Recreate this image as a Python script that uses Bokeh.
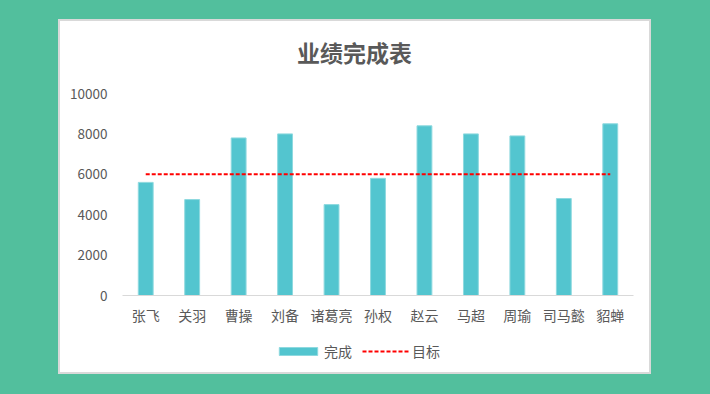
from bokeh.plotting import figure
from bokeh.layouts import column
from bokeh.models import (Range1d, FactorRange, FixedTicker, Legend, LegendItem,
                          ColumnDataSource, Label)
from bokeh.embed import file_html
from bokeh.resources import INLINE

# ---- data ----
categories = ["张飞", "关羽", "曹操", "刘备", "诸葛亮", "孙权", "赵云", "马超", "周瑜", "司马懿", "貂蝉"]
completed = [5600, 4750, 7800, 8000, 4500, 5800, 8400, 8000, 7900, 4800, 8500]
target = [6000, 6000, 6000, 6000, 6000, 6000, 6000, 6000, 6000, 6000, 6000]
y_ticks = [0, 2000, 4000, 6000, 8000, 10000]
series_names = ["完成", "目标"]
chart_title = "业绩完成表"

FONT = "Noto Sans CJK SC"
BG = "#52BF9D"
TEXT = "#595959"
BAR_FILL = "#53C5CF"
BAR_LINE = "#8ED9DF"
TARGET_COLOR = "#FF0000"

W = 589
FRAME_W = 511
HEAD_H = 50
LEG_H = 37
NAN = float("nan")


def bare(height):
    f = figure(width=W, height=height, x_range=Range1d(0, FRAME_W), y_range=Range1d(0, height),
               x_axis_type=None, y_axis_type=None, output_backend="svg",
               toolbar_location=None, min_border=0)
    f.grid.visible = False
    f.outline_line_color = None
    f.border_fill_color = "white"
    f.background_fill_color = "white"
    return f


# ---- title strip ----
head = bare(HEAD_H)
head.add_layout(Label(x=232, y=20, text=chart_title, text_align="center",
                      text_baseline="middle", text_font=FONT, text_font_size="23px",
                      text_font_style="bold", text_color=TEXT))

# ---- main chart ----
p = figure(frame_width=FRAME_W, frame_height=202,
           x_range=FactorRange(*categories, range_padding=0),
           y_range=Range1d(0, 10000),
           output_backend="svg", toolbar_location=None,
           min_border_left=62, min_border_right=16,
           min_border_top=72 - HEAD_H, min_border_bottom=40)
p.border_fill_color = "white"
p.background_fill_color = "white"
p.outline_line_color = None
p.grid.visible = False

p.xaxis.axis_line_color = "#D9D9D9"
p.xaxis.major_tick_line_color = None
p.xaxis.minor_tick_line_color = None
p.xaxis.major_label_text_font = FONT
p.xaxis.major_label_text_font_size = "14px"
p.xaxis.major_label_text_color = TEXT
p.xaxis.major_label_standoff = 3

p.yaxis.ticker = FixedTicker(ticks=y_ticks)
p.yaxis.axis_line_color = None
p.yaxis.major_tick_line_color = None
p.yaxis.minor_tick_line_color = None
p.yaxis.major_label_text_font = FONT
p.yaxis.major_label_text_font_size = "13.5px"
p.yaxis.major_label_text_color = TEXT
p.yaxis.major_label_standoff = 9

src = ColumnDataSource(dict(cat=categories, completed=completed, target=target))
p.vbar(x="cat", top="completed", width=0.32, source=src,
       fill_color=BAR_FILL, line_color=BAR_LINE, line_width=1)
p.line(x="cat", y="target", source=src, line_color=TARGET_COLOR,
       line_width=2, line_dash="4 2")

# ---- legend strip (legend keys only, no visible data) ----
leg = bare(LEG_H)
bar_key = leg.vbar(x=[NAN], top=[NAN], width=0.32, fill_color=BAR_FILL,
                   line_color=BAR_LINE, line_width=1)
line_key = leg.line(x=[NAN, NAN], y=[NAN, NAN], line_color=TARGET_COLOR,
                    line_width=2, line_dash="4 2")
legend = Legend(items=[LegendItem(label=series_names[0], renderers=[bar_key]),
                       LegendItem(label=series_names[1], renderers=[line_key])],
                orientation="horizontal", location=(152, 11),
                glyph_width=48, glyph_height=10, label_standoff=2, spacing=10,
                label_width=0, padding=0, margin=0, border_line_color=None,
                background_fill_alpha=0,
                label_text_font=FONT, label_text_font_size="14px",
                label_text_color=TEXT)
leg.add_layout(legend)

lay = column(head, p, leg, spacing=0)
lay.margin = (21, 0, 0, 60)
lay.styles = {"outline": "2px solid #D9D9D9", "background": "white"}

html = file_html(lay, INLINE, title=chart_title)
html = html.replace("</head>", "<style>html,body{background:%s;}</style></head>" % BG)
with open("out.html", "w", encoding="utf-8") as f:
    f.write(html)
